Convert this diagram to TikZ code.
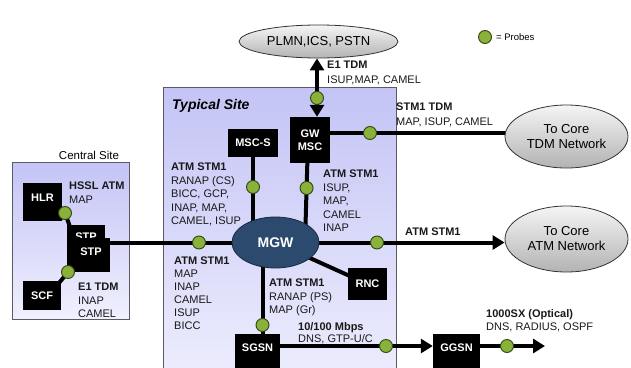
\documentclass[tikz,border=0pt]{standalone}
\usepackage{fontspec}
\setmainfont{Liberation Sans}
\usetikzlibrary{arrows.meta,shapes.geometric}
\definecolor{probeg}{RGB}{138,178,58}
\definecolor{probed}{RGB}{45,70,18}
\definecolor{mgwc}{RGB}{44,74,110}
\definecolor{mgwb}{RGB}{22,40,66}
\definecolor{sitetop}{RGB}{196,196,246}
\definecolor{sitebot}{RGB}{240,240,254}
\definecolor{siteline}{RGB}{90,90,100}
\pgfdeclarelayer{bg}\pgfdeclarelayer{ln}\pgfsetlayers{bg,ln,main}
\begin{document}
\begin{tikzpicture}[x=1pt,y=-1pt,
 blk/.style={rectangle,fill=black,text=white,font=\fontsize{11}{13}\selectfont\bfseries,inner sep=0pt},
 probe/.style={circle,fill=probeg,draw=probed,line width=0.9pt,minimum size=13pt,inner sep=0pt},
 cloud/.style={ellipse,draw=black!80,line width=0.8pt,top color=gray!8,bottom color=gray!60,font=\fontsize{13}{15}\selectfont,align=center,inner sep=0pt},
 conn/.style={line width=4pt},
 tip/.style={-{Triangle[length=12pt,width=14pt]}},
 tips/.style={{Triangle[length=12pt,width=14pt]}-{Triangle[length=12pt,width=14pt]}},
 lbl/.style={anchor=north west,inner sep=0pt,align=left,text=black!90,font=\fontsize{11}{13.4}\selectfont},
 site/.style={rectangle,draw=siteline,line width=0.8pt,top color=sitetop,bottom color=sitebot,inner sep=0pt}
]
\clip (0,0) rectangle (631,367);
\begin{pgfonlayer}{bg}
\node[site,minimum width=233pt,minimum height=313pt] (typ) at (279.5,243.5) {};
\node[site,minimum width=117pt,minimum height=157pt] (cen) at (70.5,240.5) {};
\end{pgfonlayer}
% boxes
\node[blk,anchor=north,minimum width=39pt,inner ysep=3pt,text height=15pt,text depth=17pt] (hlr) at (42.5,183) {HLR};
\node[blk,anchor=north,minimum width=38pt,inner ysep=3pt,text height=12pt,text depth=22pt] (stpb) at (86,225) {STP};
\node[blk,anchor=north,minimum width=38pt,inner ysep=3pt,text height=14pt,text depth=14pt] (stpf) at (91,238) {STP};
\node[blk,minimum width=38pt,minimum height=29pt] (scf) at (42,295.5) {SCF};
\node[blk,minimum width=50pt,minimum height=28pt] (mscs) at (253,143) {MSC-S};
\node[blk,align=center,minimum width=40pt,minimum height=46pt] (gw) at (310,140) {GW\\MSC};
\node[blk,minimum width=39pt,minimum height=32pt] (rnc) at (367.5,284) {RNC};
\node[blk,anchor=north,minimum width=45pt,inner ysep=5pt,text height=12pt,text depth=22pt] (sgsn) at (257.5,334) {SGSN};
\node[blk,anchor=north,minimum width=47pt,inner ysep=5pt,text height=12pt,text depth=22pt] (ggsn) at (456.5,334) {GGSN};
\node[ellipse,fill=mgwc,draw=mgwb,line width=0.8pt,minimum width=87pt,minimum height=51pt,inner sep=0pt,text=white,font=\fontsize{14}{16}\selectfont\bfseries] (mgw) at (275.5,242.5) {MGW};
\node[cloud,minimum width=159pt,minimum height=33pt] (plmn) at (318.5,41.5) {PLMN,ICS, PSTN};
\node[cloud,minimum width=123pt,minimum height=63pt] (tdm) at (566.5,136.5) {To Core\\TDM Network};
\node[cloud,minimum width=123pt,minimum height=66pt] (atm) at (566.5,239) {To Core\\ATM Network};
\coordinate (out) at (545,346);
% probes
\node[probe] (p1) at (65,213) {};
\node[probe] (p2) at (68,272) {};
\node[probe] (p3) at (199,242.5) {};
\node[probe] (p4) at (253,187) {};
\node[probe] (p5) at (306.6,188) {};
\node[probe] (p6) at (317,98) {};
\node[probe] (p7) at (370,133) {};
\node[probe] (p8) at (377,242.5) {};
\node[probe] (p9) at (262.5,325) {};
\node[probe] (p10) at (386,346) {};
\node[probe] (p11) at (507,346) {};
\node[probe] (pleg) at (485,37) {};
\node[anchor=west,inner sep=0pt,font=\fontsize{9.5}{11}\selectfont] (leg) at (496,37.5) {= Probes};
% labels
\node[anchor=north west,inner sep=0pt,font=\fontsize{14}{16}\selectfont\bfseries\itshape] (typlbl) at (172,99) {Typical Site};
\node[inner sep=0pt,font=\fontsize{11.5}{13}\selectfont] (cenlbl) at (89,155) {Central Site};
\node[lbl] (l1) at (69,182) {\textbf{HSSL ATM}\\MAP};
\node[lbl] (l2) at (78,283) {\textbf{E1 TDM}\\INAP\\CAMEL};
\node[lbl] (l3) at (171,163) {\textbf{ATM STM1}\\RANAP (CS)\\BICC, GCP,\\INAP, MAP,\\CAMEL, ISUP};
\node[lbl] (l4) at (323,170) {\textbf{ATM STM1}\\ISUP,\\MAP,\\CAMEL\\INAP};
\node[lbl,font=\fontsize{11}{13}\selectfont] (l5) at (174,257) {\textbf{ATM STM1}\\MAP\\INAP\\CAMEL\\ISUP\\BICC};
\node[lbl] (l6) at (269,279) {\textbf{ATM STM1}\\RANAP (PS)\\MAP (Gr)};
\node[lbl,font=\fontsize{11}{12.5}\selectfont] (l7) at (298,322) {\textbf{10/100 Mbps}\\DNS, GTP-U/C};
\node[lbl] (l8) at (486,309) {\textbf{1000SX (Optical)}\\DNS, RADIUS, OSPF};
\node[lbl] (l9) at (405,228) {\textbf{ATM STM1}};
\node[lbl,font=\fontsize{11}{15}\selectfont] (l10) at (396,103) {\textbf{STM1 TDM}\\MAP, ISUP, CAMEL};
\node[lbl,font=\fontsize{11}{15}\selectfont] (l11) at (327,61) {\textbf{E1 TDM}\\ISUP,MAP, CAMEL};
% connectors
\begin{pgfonlayer}{ln}
\draw[conn] ([xshift=-2pt,yshift=2pt]hlr.south east) -- (p1.center) -- ([xshift=4pt,yshift=-4pt]stpb.north west);
\draw[conn] ([xshift=-2pt,yshift=-2pt]scf.north east) -- (p2.center) -- ([xshift=6pt,yshift=4pt]stpb.south west);
\draw[conn] (stpf.center |- mgw.center) -- (mgw.center);
\draw[conn] (mscs.center) -- (mscs.center |- mgw.center);
\draw[conn] ([xshift=-2pt]gw.center) -- ([xshift=-5pt]gw.center |- mgw.center);
\draw[conn,tips] ([xshift=7pt]gw.north) -- ([xshift=7pt]gw.north |- plmn.south);
\draw[conn] ([yshift=7pt]gw.center) -- ([yshift=7pt]gw.center -| tdm.center);
\draw[conn,tip] (mgw.center) -- (mgw.center -| atm.west);
\draw[conn] (mgw.center) -- (rnc.center);
\draw[conn] ([xshift=5pt]sgsn.north) -- ([xshift=5pt]sgsn.north |- mgw.center);
\draw[conn,tip] ([yshift=-12pt]sgsn.north) -- ([yshift=-12pt]sgsn.north -| ggsn.west);
\draw[conn,tip] ([yshift=-12pt]ggsn.north) -- (out);
\end{pgfonlayer}
\end{tikzpicture}
\end{document}
